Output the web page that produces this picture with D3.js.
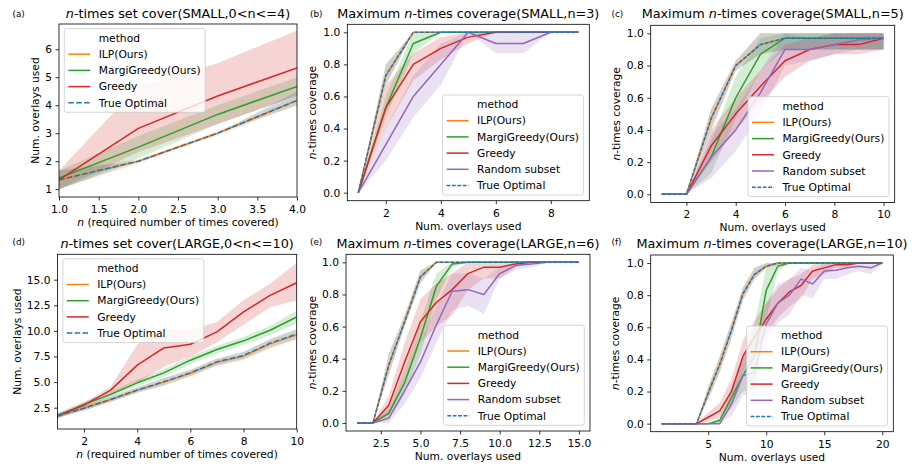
<!DOCTYPE html>
<meta charset="utf-8">
<script src="https://d3js.org/d3.v7.min.js"></script>
<style>
  body { margin: 0; background: #fff; }
  svg text { font-family: "DejaVu Sans", sans-serif; fill: #000; }
</style>
<div id="chart"></div>
<script>
// ---------- data ----------
const methods = ["ILP(Ours)", "MargiGreedy(Ours)", "Greedy", "Random subset", "True Optimal"];

// (a) n-times set cover, SMALL
const aX = [1, 2, 3, 4];
const aXTicks = [1, 1.5, 2, 2.5, 3, 3.5, 4];
const aYTicks = [1, 2, 3, 4, 5, 6];
const aIlp = [1.33, 2.0, 3.0, 4.17];
const aIlpLo = [1.0, 1.93, 2.93, 4.0];
const aIlpHi = [1.67, 2.07, 3.07, 4.33];
const aMargi = [1.4, 2.5, 3.67, 4.67];
const aMargiLo = [1.0, 2.1, 3.33, 4.33];
const aMargiHi = [1.67, 2.9, 4.0, 5.0];
const aGreedy = [1.33, 3.17, 4.33, 5.33];
const aGreedyLo = [1.0, 2.33, 3.33, 4.33];
const aGreedyHi = [1.67, 4.67, 5.5, 6.67];
const aOpt = [1.33, 2.0, 3.0, 4.17];
const aOptLo = [1.0, 2.0, 3.0, 4.0];
const aOptHi = [1.67, 2.0, 3.0, 4.5];

// (b) maximum n-times coverage, SMALL, n=3
const bX = [1, 2, 3, 4, 5, 6, 7, 8, 9];
const bXTicks = [2, 4, 6, 8];
const covTicks = [0, 0.2, 0.4, 0.6, 0.8, 1.0];
const bIlp = [0, 0.73, 1, 1, 1, 1, 1, 1, 1];
const bIlpLo = [0, 0.67, 1, 1, 1, 1, 1, 1, 1];
const bIlpHi = [0, 0.8, 1, 1, 1, 1, 1, 1, 1];
const bMargi = [0, 0.53, 0.93, 1, 1, 1, 1, 1, 1];
const bMargiLo = [0, 0.47, 0.87, 1, 1, 1, 1, 1, 1];
const bMargiHi = [0, 0.6, 1.0, 1, 1, 1, 1, 1, 1];
const bGreedy = [0, 0.53, 0.8, 0.9, 0.97, 1, 1, 1, 1];
const bGreedyLo = [0, 0.4, 0.7, 0.83, 0.93, 1, 1, 1, 1];
const bGreedyHi = [0, 0.67, 0.87, 0.97, 1.0, 1, 1, 1, 1];
const bRandom = [0, 0.3, 0.6, 0.8, 1.0, 0.93, 0.93, 1.0, 1.0];
const bRandomLo = [0, 0.2, 0.47, 0.67, 1.0, 0.87, 0.87, 1.0, 1.0];
const bRandomHi = [0, 0.4, 0.73, 0.93, 1.0, 1.0, 1.0, 1.0, 1.0];
const bOpt = [0, 0.73, 1, 1, 1, 1, 1, 1, 1];
const bOptLo = [0, 0.67, 1, 1, 1, 1, 1, 1, 1];
const bOptHi = [0, 0.8, 1, 1, 1, 1, 1, 1, 1];

// (c) maximum n-times coverage, SMALL, n=5
const cX = [1, 2, 3, 4, 5, 6, 7, 8, 9, 10];
const cXTicks = [2, 4, 6, 8, 10];
const cIlp = [0, 0, 0.47, 0.8, 0.93, 0.97, 0.97, 0.97, 0.97, 0.97];
const cIlpLo = [0, 0, 0.4, 0.77, 0.87, 0.9, 0.9, 0.9, 0.9, 0.9];
const cIlpHi = [0, 0, 0.53, 0.83, 1.0, 1.0, 1.0, 1.0, 1.0, 1.0];
const cMargi = [0, 0, 0.23, 0.6, 0.87, 0.97, 0.97, 0.97, 0.97, 0.97];
const cMargiLo = [0, 0, 0.13, 0.47, 0.77, 0.9, 0.9, 0.9, 0.9, 0.9];
const cMargiHi = [0, 0, 0.33, 0.73, 0.97, 1, 1, 1, 1, 1];
const cGreedy = [0, 0, 0.3, 0.5, 0.67, 0.83, 0.9, 0.93, 0.93, 0.97];
const cGreedyLo = [0, 0, 0.2, 0.4, 0.57, 0.73, 0.83, 0.87, 0.87, 0.9];
const cGreedyHi = [0, 0, 0.4, 0.6, 0.77, 0.93, 0.97, 1, 1, 1];
const cRandom = [0, 0, 0.23, 0.4, 0.63, 0.9, 0.9, 0.93, 0.96, 0.97];
const cRandomLo = [0, 0, 0.1, 0.27, 0.5, 0.8, 0.83, 0.87, 0.9, 0.9];
const cRandomHi = [0, 0, 0.37, 0.53, 0.77, 1, 0.97, 1, 1, 1];
const cOpt = [0, 0, 0.47, 0.8, 0.93, 0.97, 0.97, 0.97, 0.97, 0.97];
const cOptLo = [0, 0, 0.4, 0.77, 0.87, 0.9, 0.9, 0.9, 0.9, 0.9];
const cOptHi = [0, 0, 0.53, 0.83, 1.0, 1.0, 1.0, 1.0, 1.0, 1.0];

// (d) n-times set cover, LARGE
const dX = [1, 2, 3, 4, 5, 6, 7, 8, 9, 10];
const dXTicks = [2, 4, 6, 8, 10];
const dYTicks = [2.5, 5.0, 7.5, 10.0, 12.5, 15.0];
const dIlp = [1.72, 2.44, 3.3, 4.2, 5.0, 5.87, 6.93, 7.53, 8.73, 9.63];
const dIlpLo = [1.5, 2.2, 3.05, 3.95, 4.65, 5.55, 6.6, 7.15, 8.3, 9.15];
const dIlpHi = [1.95, 2.7, 3.55, 4.45, 5.35, 6.2, 7.25, 7.9, 9.15, 10.1];
const dMargi = [1.7, 2.82, 3.8, 4.93, 5.9, 7.14, 8.18, 9.03, 10.06, 11.36];
const dMargiLo = [1.45, 2.55, 3.5, 4.6, 5.55, 6.75, 7.8, 8.65, 9.6, 10.75];
const dMargiHi = [1.95, 3.1, 4.1, 5.25, 6.25, 7.5, 8.55, 9.4, 10.5, 12.0];
const dGreedy = [1.7, 2.76, 4.22, 6.66, 8.34, 8.7, 9.9, 11.85, 13.47, 14.7];
const dGreedyLo = [1.5, 2.5, 3.7, 4.9, 6.5, 7.5, 8.9, 10.6, 12.3, 13.0];
const dGreedyHi = [1.9, 3.0, 4.55, 8.67, 10.2, 10.06, 10.87, 13.0, 14.6, 16.66];
const dOpt = [1.72, 2.44, 3.3, 4.22, 5.03, 5.9, 6.98, 7.6, 8.8, 9.68];
const dOptLo = [1.5, 2.2, 3.05, 3.95, 4.7, 5.6, 6.65, 7.25, 8.4, 9.2];
const dOptHi = [1.95, 2.7, 3.55, 4.5, 5.4, 6.2, 7.3, 8.0, 9.2, 10.2];

// (e) maximum n-times coverage, LARGE, n=6
const eX = [1, 2, 3, 4, 5, 6, 7, 8, 9, 10, 11, 12, 13, 14, 15];
const eXTicks = [2.5, 5.0, 7.5, 10.0, 12.5, 15.0];
const eIlp = [0, 0, 0.36, 0.63, 0.91, 1, 1, 1, 1, 1, 1, 1, 1, 1, 1];
const eIlpLo = [0, 0, 0.3, 0.6, 0.87, 1, 1, 1, 1, 1, 1, 1, 1, 1, 1];
const eIlpHi = [0, 0, 0.43, 0.67, 0.95, 1, 1, 1, 1, 1, 1, 1, 1, 1, 1];
const eMargi = [0, 0, 0.06, 0.25, 0.53, 0.85, 0.99, 1, 1, 1, 1, 1, 1, 1, 1];
const eMargiLo = [0, 0, 0.02, 0.18, 0.43, 0.77, 0.97, 1, 1, 1, 1, 1, 1, 1, 1];
const eMargiHi = [0, 0, 0.1, 0.33, 0.63, 0.93, 1, 1, 1, 1, 1, 1, 1, 1, 1];
const eGreedy = [0, 0, 0.11, 0.38, 0.63, 0.75, 0.83, 0.93, 0.97, 0.97, 0.99, 1, 1, 1, 1];
const eGreedyLo = [0, 0, 0.05, 0.27, 0.5, 0.6, 0.67, 0.83, 0.9, 0.9, 0.97, 1, 1, 1, 1];
const eGreedyHi = [0, 0, 0.17, 0.5, 0.77, 0.87, 0.93, 1, 1, 1, 1, 1, 1, 1, 1];
const eRandom = [0, 0, 0.03, 0.2, 0.38, 0.61, 0.82, 0.83, 0.8, 0.93, 0.98, 0.99, 1, 1, 1];
const eRandomLo = [0, 0, 0, 0.12, 0.28, 0.5, 0.7, 0.73, 0.68, 0.9, 0.95, 0.97, 1, 1, 1];
const eRandomHi = [0, 0, 0.08, 0.28, 0.5, 0.73, 0.93, 0.93, 0.9, 0.97, 1, 1, 1, 1, 1];
const eOpt = [0, 0, 0.36, 0.63, 0.91, 1, 1, 1, 1, 1, 1, 1, 1, 1, 1];
const eOptLo = [0, 0, 0.3, 0.6, 0.87, 1, 1, 1, 1, 1, 1, 1, 1, 1, 1];
const eOptHi = [0, 0, 0.43, 0.67, 0.95, 1, 1, 1, 1, 1, 1, 1, 1, 1, 1];

// (f) maximum n-times coverage, LARGE, n=10
const fX = [1, 2, 3, 4, 5, 6, 7, 8, 9, 10, 11, 12, 13, 14, 15, 16, 17, 18, 19, 20];
const fXTicks = [5, 10, 15, 20];
const fIlp = [0, 0, 0, 0, 0.19, 0.37, 0.58, 0.81, 0.93, 0.98, 1, 1, 1, 1, 1, 1, 1, 1, 1, 1];
const fIlpLo = [0, 0, 0, 0, 0.15, 0.32, 0.53, 0.77, 0.9, 0.97, 0.99, 1, 1, 1, 1, 1, 1, 1, 1, 1];
const fIlpHi = [0, 0, 0, 0, 0.23, 0.42, 0.63, 0.85, 0.97, 1, 1, 1, 1, 1, 1, 1, 1, 1, 1, 1];
const fMargi = [0, 0, 0, 0, 0, 0.02, 0.16, 0.3, 0.42, 0.83, 0.98, 1, 1, 1, 1, 1, 1, 1, 1, 1];
const fMargiLo = [0, 0, 0, 0, 0, 0, 0.1, 0.2, 0.22, 0.65, 0.95, 1, 1, 1, 1, 1, 1, 1, 1, 1];
const fMargiHi = [0, 0, 0, 0, 0, 0.04, 0.22, 0.4, 0.62, 0.97, 1, 1, 1, 1, 1, 1, 1, 1, 1, 1];
const fGreedy = [0, 0, 0, 0, 0.04, 0.08, 0.2, 0.42, 0.54, 0.65, 0.75, 0.82, 0.86, 0.95, 0.97, 0.99, 0.99, 1, 1, 1];
const fGreedyLo = [0, 0, 0, 0, 0.01, 0.04, 0.12, 0.32, 0.44, 0.55, 0.66, 0.73, 0.78, 0.9, 0.93, 0.97, 0.97, 1, 1, 1];
const fGreedyHi = [0, 0, 0, 0, 0.07, 0.13, 0.28, 0.52, 0.64, 0.75, 0.84, 0.9, 0.93, 0.99, 1, 1, 1, 1, 1, 1];
const fRandom = [0, 0, 0, 0, 0, 0, 0.12, 0.3, 0.32, 0.62, 0.75, 0.8, 0.9, 0.87, 0.95, 0.955, 0.97, 0.98, 0.97, 1];
const fRandomLo = [0, 0, 0, 0, 0, 0, 0.05, 0.18, 0.18, 0.5, 0.63, 0.68, 0.8, 0.78, 0.9, 0.9, 0.93, 0.95, 0.93, 1];
const fRandomHi = [0, 0, 0, 0, 0, 0, 0.2, 0.42, 0.5, 0.75, 0.87, 0.9, 0.97, 0.95, 1, 1, 1, 1, 1, 1];
const fOpt = [0, 0, 0, 0, 0.19, 0.37, 0.58, 0.81, 0.93, 0.98, 1, 1, 1, 1, 1, 1, 1, 1, 1, 1];
const fOptLo = [0, 0, 0, 0, 0.15, 0.32, 0.53, 0.77, 0.9, 0.97, 0.99, 1, 1, 1, 1, 1, 1, 1, 1, 1];
const fOptHi = [0, 0, 0, 0, 0.23, 0.42, 0.63, 0.85, 0.97, 1, 1, 1, 1, 1, 1, 1, 1, 1, 1, 1];

// ---------- drawing ----------
const colors = {
  "ILP(Ours)": "#ff7f0e",
  "MargiGreedy(Ours)": "#2ca02c",
  "Greedy": "#d62728",
  "Random subset": "#9467bd",
  "True Optimal": "#1f77b4"
};
const FONT = 10.7;

const svg = d3.select("#chart").append("svg")
  .attr("width", 912).attr("height", 465);

function S(name, y, lo, hi) { return {name, y, lo, hi}; }

const panels = [
  {tag: "(a)", box: {l: 59, r: 297, t: 24, b: 197}, x: aX, xDom: [1, 4], yDom: [0.72, 6.9],
   xTicks: aXTicks, xFmt: d3.format(".1f"), yTicks: aYTicks, yFmt: d3.format("d"),
   title: ["", "n", "-times set cover(SMALL,0<n<=4)"], titleY: 18.3, tagY: 17,
   xLabel: ["n", " (required number of times covered)"], yLabel: ["", "Num. overlays used"], yLabelX: 39,
   dash: "5.5,2.4", legend: "ul",
   series: [S(methods[0], aIlp, aIlpLo, aIlpHi), S(methods[1], aMargi, aMargiLo, aMargiHi),
            S(methods[2], aGreedy, aGreedyLo, aGreedyHi), S(methods[4], aOpt, aOptLo, aOptHi)]},
  {tag: "(b)", box: {l: 347.3, r: 589.3, t: 24.3, b: 200.7}, x: bX, xDom: [0.6, 9.4], yDom: [-0.05, 1.05],
   xTicks: bXTicks, xFmt: d3.format("d"), yTicks: covTicks, yFmt: d3.format(".1f"),
   title: ["Maximum ", "n", "-times coverage(SMALL,n=3)"], titleY: 18.3, tagY: 17,
   xLabel: ["", "Num. overlays used"], yLabel: ["n", "-times coverage"], yLabelX: 316,
   dash: "3.8,1.6", legend: "lr",
   series: [S(methods[0], bIlp, bIlpLo, bIlpHi), S(methods[1], bMargi, bMargiLo, bMargiHi),
            S(methods[2], bGreedy, bGreedyLo, bGreedyHi), S(methods[3], bRandom, bRandomLo, bRandomHi),
            S(methods[4], bOpt, bOptLo, bOptHi)]},
  {tag: "(c)", box: {l: 650.7, r: 894.7, t: 25.3, b: 202.4}, x: cX, xDom: [0.55, 10.45], yDom: [-0.05, 1.05],
   xTicks: cXTicks, xFmt: d3.format("d"), yTicks: covTicks, yFmt: d3.format(".1f"),
   title: ["Maximum ", "n", "-times coverage(SMALL,n=5)"], titleY: 18.3, tagY: 17,
   xLabel: ["", "Num. overlays used"], yLabel: ["n", "-times coverage"], yLabelX: 619.5,
   dash: "3.8,1.6", legend: "lr",
   series: [S(methods[0], cIlp, cIlpLo, cIlpHi), S(methods[1], cMargi, cMargiLo, cMargiHi),
            S(methods[2], cGreedy, cGreedyLo, cGreedyHi), S(methods[3], cRandom, cRandomLo, cRandomHi),
            S(methods[4], cOpt, cOptLo, cOptHi)]},
  {tag: "(d)", box: {l: 57.5, r: 296.7, t: 254.3, b: 429}, x: dX, xDom: [1, 10], yDom: [0.42, 17.48],
   xTicks: dXTicks, xFmt: d3.format("d"), yTicks: dYTicks, yFmt: d3.format(".1f"),
   title: ["", "n", "-times set cover(LARGE,0<n<=10)"], titleY: 248, tagY: 245,
   xLabel: ["n", " (required number of times covered)"], yLabel: ["", "Num. overlays used"], yLabelX: 20.5,
   dash: "5.5,2.4", legend: "ul",
   series: [S(methods[0], dIlp, dIlpLo, dIlpHi), S(methods[1], dMargi, dMargiLo, dMargiHi),
            S(methods[2], dGreedy, dGreedyLo, dGreedyHi), S(methods[4], dOpt, dOptLo, dOptHi)]},
  {tag: "(e)", box: {l: 346, r: 590, t: 254.3, b: 431}, x: eX, xDom: [0.3, 15.7], yDom: [-0.05, 1.05],
   xTicks: eXTicks, xFmt: d3.format(".1f"), yTicks: covTicks, yFmt: d3.format(".1f"),
   title: ["Maximum ", "n", "-times coverage(LARGE,n=6)"], titleY: 248, tagY: 245,
   xLabel: ["", "Num. overlays used"], yLabel: ["n", "-times coverage"], yLabelX: 316,
   dash: "3.8,1.6", legend: "lr",
   series: [S(methods[0], eIlp, eIlpLo, eIlpHi), S(methods[1], eMargi, eMargiLo, eMargiHi),
            S(methods[2], eGreedy, eGreedyLo, eGreedyHi), S(methods[3], eRandom, eRandomLo, eRandomHi),
            S(methods[4], eOpt, eOptLo, eOptHi)]},
  {tag: "(f)", box: {l: 650.7, r: 893.3, t: 255, b: 431.7}, x: fX, xDom: [0.05, 20.95], yDom: [-0.05, 1.05],
   xTicks: fXTicks, xFmt: d3.format("d"), yTicks: covTicks, yFmt: d3.format(".1f"),
   title: ["Maximum ", "n", "-times coverage(LARGE,n=10)"], titleY: 248, tagY: 244.5,
   xLabel: ["", "Num. overlays used"], yLabel: ["n", "-times coverage"], yLabelX: 619,
   dash: "3.8,1.6", legend: "lr",
   series: [S(methods[0], fIlp, fIlpLo, fIlpHi), S(methods[1], fMargi, fMargiLo, fMargiHi),
            S(methods[2], fGreedy, fGreedyLo, fGreedyHi), S(methods[3], fRandom, fRandomLo, fRandomHi),
            S(methods[4], fOpt, fOptLo, fOptHi)]}
];

const defs = svg.append("defs");

panels.forEach((p, idx) => {
  const B = p.box;
  const x = d3.scaleLinear().domain(p.xDom).range([B.l, B.r]);
  const y = d3.scaleLinear().domain(p.yDom).range([B.b, B.t]);
  const g = svg.append("g");

  defs.append("clipPath").attr("id", "clip" + idx)
    .append("rect").attr("x", B.l).attr("y", B.t).attr("width", B.r - B.l).attr("height", B.b - B.t);
  const plot = g.append("g").attr("clip-path", `url(#clip${idx})`);

  const rows = p.series.map(s => p.x.map((xv, i) => ({x: xv, y: s.y[i], lo: s.lo[i], hi: s.hi[i]})));

  // confidence bands go under every line (matplotlib z-order)
  p.series.forEach((s, i) => {
    plot.append("path").datum(rows[i])
      .attr("d", d3.area().x(d => x(d.x)).y0(d => y(d.lo)).y1(d => y(d.hi)))
      .attr("fill", colors[s.name]).attr("fill-opacity", 0.2).attr("stroke", "none");
  });
  p.series.forEach((s, i) => {
    plot.append("path").datum(rows[i])
      .attr("d", d3.line().x(d => x(d.x)).y(d => y(d.y)))
      .attr("fill", "none").attr("stroke", colors[s.name]).attr("stroke-width", 1.5)
      .attr("stroke-linejoin", "round")
      .attr("stroke-dasharray", s.name === "True Optimal" ? p.dash : null);
  });

  // axes
  const xa = g.append("g").attr("transform", `translate(0,${B.b})`)
    .call(d3.axisBottom(x).tickValues(p.xTicks).tickFormat(p.xFmt).tickSize(3.5).tickPadding(5));
  const ya = g.append("g").attr("transform", `translate(${B.l},0)`)
    .call(d3.axisLeft(y).tickValues(p.yTicks).tickFormat(p.yFmt).tickSize(3.5).tickPadding(3.5));
  [xa, ya].forEach(a => {
    a.select(".domain").remove();
    a.attr("font-size", FONT).attr("font-family", "DejaVu Sans");
    a.selectAll("line").attr("stroke-width", 0.8);
  });

  g.append("rect").attr("x", B.l).attr("y", B.t).attr("width", B.r - B.l).attr("height", B.b - B.t)
    .attr("fill", "none").attr("stroke", "#000").attr("stroke-width", 0.8);

  // title and panel tag
  const cx = (B.l + B.r) / 2;
  const t = g.append("text").attr("x", cx).attr("y", p.titleY).attr("text-anchor", "middle")
    .attr("font-size", 12.8);
  t.append("tspan").text(p.title[0]);
  t.append("tspan").attr("font-style", "italic").text(p.title[1]);
  t.append("tspan").text(p.title[2]);
  const tagX = idx % 3 === 0 ? 12.5 : (idx % 3 === 1 ? 310 : 611.5);
  g.append("text").attr("x", tagX).attr("y", p.tagY).attr("font-size", 8.8).text(p.tag);

  // axis labels
  const xl = g.append("text").attr("x", cx).attr("y", B.b + 29).attr("text-anchor", "middle")
    .attr("font-size", FONT);
  xl.append("tspan").attr("font-style", "italic").text(p.xLabel[0]);
  xl.append("tspan").text(p.xLabel[1]);
  const yl = g.append("text").attr("transform", `translate(${p.yLabelX},${(B.t + B.b) / 2}) rotate(-90)`)
    .attr("text-anchor", "middle").attr("font-size", FONT);
  yl.append("tspan").attr("font-style", "italic").text(p.yLabel[0]);
  yl.append("tspan").text(p.yLabel[1]);

  // legend
  const entries = p.series.map(s => s.name);
  const lw = 141, step = 16.2, lh = step * entries.length + 19;
  const lx = p.legend === "ul" ? B.l + 5.3 : B.r - 5.7 - lw;
  const ly = p.legend === "ul" ? B.t + 4.5 : B.b - 5.7 - lh;
  const lg = g.append("g").attr("transform", `translate(${lx},${ly})`);
  lg.append("rect").attr("width", lw).attr("height", lh).attr("rx", 2.5)
    .attr("fill", "#fff").attr("fill-opacity", 0.8).attr("stroke", "#ccc").attr("stroke-width", 0.8);
  lg.append("text").attr("x", 34.4).attr("y", 9.5).attr("dy", "0.35em").attr("font-size", FONT).text("method");
  entries.forEach((name, i) => {
    const ry = 9.5 + (i + 1) * step;
    lg.append("line").attr("x1", 4).attr("x2", 26).attr("y1", ry).attr("y2", ry)
      .attr("stroke", colors[name]).attr("stroke-width", 1.5)
      .attr("stroke-dasharray", name === "True Optimal" ? p.dash : null);
    lg.append("text").attr("x", 34.4).attr("y", ry).attr("dy", "0.35em").attr("font-size", FONT).text(name);
  });
});
</script>
